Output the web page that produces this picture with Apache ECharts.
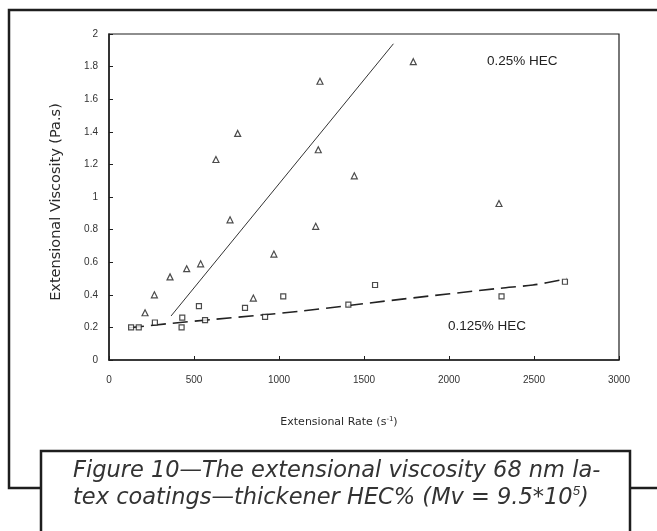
<!DOCTYPE html>
<html>
<head>
<meta charset="utf-8">
<script src="https://cdn.jsdelivr.net/npm/echarts@6/dist/echarts.min.js"></script>
<style>
  html, body { margin: 0; padding: 0; background: #fff; }
  #chart { width: 657px; height: 531px; }
</style>
</head>
<body>
<div id="chart"></div>
<script>
// 0.25 % HEC measurements (triangles)
const rate025 = [212, 267, 359, 457, 539, 629, 712, 757, 849, 970, 1216, 1231, 1241, 1443, 1790, 2294];
const visc025 = [0.29, 0.40, 0.51, 0.56, 0.59, 1.23, 0.86, 1.39, 0.38, 0.65, 0.82, 1.29, 1.71, 1.13, 1.83, 0.96];

// 0.125 % HEC measurements (squares)
const rate0125 = [130, 175, 270, 427, 431, 529, 565, 800, 918, 1025, 1408, 1565, 2309, 2682];
const visc0125 = [0.20, 0.20, 0.23, 0.20, 0.26, 0.33, 0.245, 0.32, 0.265, 0.39, 0.34, 0.46, 0.39, 0.48];

// fitted trend for 0.25 % HEC (straight line)
const fit025Rate = [365, 1673];
const fit025Visc = [0.27, 1.94];

// fitted trend for 0.125 % HEC (gentle curve)
const fit0125Rate = [118, 369, 624, 898, 1133, 1712, 2300, 2494, 2653, 2692];
const fit0125Visc = [0.198, 0.225, 0.25, 0.276, 0.30, 0.372, 0.44, 0.46, 0.49, 0.50];

// axis ticks
const xTickValues = [0, 500, 1000, 1500, 2000, 2500, 3000];
const yTickValues = [0, 0.2, 0.4, 0.6, 0.8, 1, 1.2, 1.4, 1.6, 1.8, 2];

const pairs = (xs, ys) => xs.map((x, i) => [x, ys[i]]);

const ink = '#1e1e1e';
const tickFont = "'Liberation Sans Narrow', 'Liberation Sans', Arial, sans-serif";

const chart = echarts.init(document.getElementById('chart'));

chart.setOption({
  animation: false,
  backgroundColor: '#fff',
  grid: {
    left: 109, right: 38, top: 34, bottom: 171,
    show: true, borderColor: ink, borderWidth: 1.2
  },
  xAxis: {
    type: 'value',
    min: xTickValues[0], max: xTickValues[xTickValues.length - 1], interval: 500,
    axisLine: { onZero: false, lineStyle: { color: ink, width: 1.5 } },
    axisTick: { inside: true, length: 4, lineStyle: { color: ink, width: 1 } },
    splitLine: { show: false },
    axisLabel: {
      margin: 15, fontSize: 10, color: '#333', fontFamily: tickFont,
      formatter: v => String(v)
    },
    name: 'Extensional Rate (s{sup|-1})',
    nameLocation: 'middle',
    nameGap: 56,
    nameTextStyle: {
      fontSize: 11, color: '#2a2a2a', fontFamily: "'DejaVu Sans', sans-serif",
      padding: [0, 50, 0, 0],
      rich: { sup: { fontSize: 7, verticalAlign: 'top', padding: [0, 0, 6, 0], color: '#2a2a2a' } }
    }
  },
  yAxis: {
    type: 'value',
    min: yTickValues[0], max: yTickValues[yTickValues.length - 1], interval: 0.2,
    axisLine: { onZero: false, lineStyle: { color: ink, width: 1.5 } },
    axisTick: { inside: true, length: 4, lineStyle: { color: ink, width: 1 } },
    splitLine: { show: false },
    axisLabel: {
      margin: 11, fontSize: 10, color: '#333', fontFamily: tickFont,
      formatter: v => String(Math.round(v * 10) / 10)
    },
    name: 'Extensional Viscosity (Pa.s)',
    nameLocation: 'middle',
    nameGap: 45,
    nameTextStyle: { fontSize: 14.5, color: '#2a2a2a', fontFamily: "'DejaVu Sans', sans-serif", padding: [0, 10, 0, 0] }
  },
  series: [
    {
      name: '0.25% HEC fit',
      type: 'line',
      data: pairs(fit025Rate, fit025Visc),
      showSymbol: false,
      lineStyle: { color: '#333', width: 1 },
      z: 2
    },
    {
      name: '0.125% HEC fit',
      type: 'line',
      data: pairs(fit0125Rate, fit0125Visc),
      showSymbol: false,
      smooth: 0.3,
      lineStyle: { color: '#222', width: 1.6, type: [15, 7] },
      z: 2
    },
    {
      name: '0.25% HEC',
      type: 'scatter',
      data: pairs(rate025, visc025),
      symbol: 'triangle',
      symbolSize: 6,
      itemStyle: { color: '#fff', borderColor: ink, borderWidth: 1.2 },
      z: 3
    },
    {
      name: '0.125% HEC',
      type: 'scatter',
      data: pairs(rate0125, visc0125),
      symbol: 'rect',
      symbolSize: 5,
      itemStyle: { color: '#fff', borderColor: ink, borderWidth: 1.2 },
      z: 3
    }
  ],
  graphic: [
    // series annotations
    { type: 'text', left: 487, top: 54,
      style: { text: '0.25% HEC', fontSize: 13.5, fill: '#222', fontFamily: "'Liberation Sans', Arial, sans-serif" } },
    { type: 'text', left: 448, top: 319,
      style: { text: '0.125% HEC', fontSize: 13.5, fill: '#222', fontFamily: "'Liberation Sans', Arial, sans-serif" } },
    // figure frame
    { type: 'polyline', silent: true,
      shape: { points: [[657, 10], [9, 10], [9, 488], [41, 488]] },
      style: { stroke: ink, lineWidth: 2.5, fill: null } },
    { type: 'line', silent: true,
      shape: { x1: 630, y1: 488, x2: 657, y2: 488 },
      style: { stroke: ink, lineWidth: 2.5 } },
    // caption box
    { type: 'rect', silent: true,
      shape: { x: 41, y: 451, width: 589, height: 100 },
      style: { stroke: ink, lineWidth: 2.5, fill: '#fff' } },
    { type: 'text', left: 73, top: 458,
      style: {
        text: 'Figure 10—The extensional viscosity 68 nm la-\ntex coatings—thickener HEC% (Mv = 9.5*10{sup|5})',
        fontSize: 22.5, fontStyle: 'italic', fill: '#333', lineHeight: 27,
        fontFamily: "'DejaVu Sans', sans-serif",
        rich: { sup: { fontSize: 13, fontStyle: 'italic', fill: '#333', verticalAlign: 'top', padding: [0, 0, 11, 0] } }
      } }
  ]
});
</script>
</body>
</html>
